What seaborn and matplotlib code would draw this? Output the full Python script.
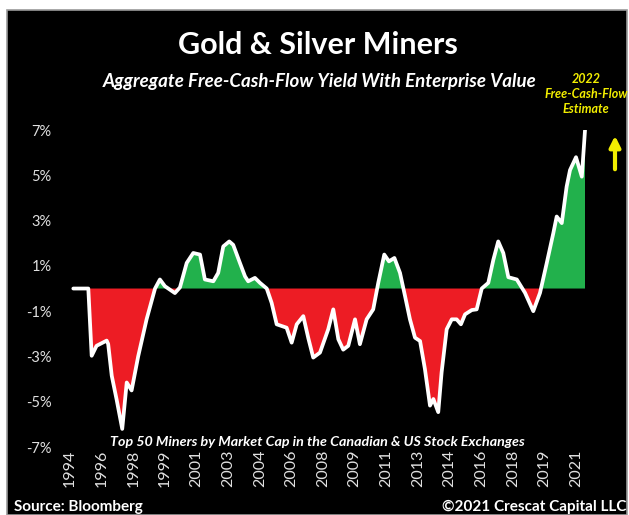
import numpy as np
import pandas as pd
import matplotlib
matplotlib.use("Agg")
import matplotlib.pyplot as plt
import seaborn as sns
from matplotlib.patches import Rectangle

# aggregate FCF yield (%), by period (decimal year)
period = [1994.18, 1994.98, 1995.16, 1995.42, 1995.96, 1996.04, 1996.23, 1996.49, 1996.79, 1997.03,
          1997.29, 1997.64, 1998.09, 1998.54, 1998.80, 1999.07, 1999.60, 1999.87, 2000.23, 2000.58,
          2000.94, 2001.20, 2001.65, 2001.91, 2002.18, 2002.50, 2002.71, 2003.07, 2003.34, 2003.51,
          2003.87, 2004.14, 2004.50, 2004.76, 2005.03, 2005.56, 2005.83, 2006.10, 2006.45, 2006.72,
          2006.98, 2007.34, 2007.78, 2008.05, 2008.32, 2008.58, 2008.85, 2009.21, 2009.47, 2009.83,
          2010.18, 2010.45, 2010.77, 2011.02, 2011.31, 2011.61, 2011.88, 2012.14, 2012.41, 2012.68,
          2012.94, 2013.21, 2013.39, 2013.65, 2013.83, 2014.10, 2014.37, 2014.63, 2014.86, 2015.08,
          2015.44, 2015.70, 2015.97, 2016.32, 2016.59, 2016.85, 2017.12, 2017.39, 2017.84, 2018.28,
          2018.72, 2019.08, 2019.44, 2019.79, 2019.97, 2020.24, 2020.50, 2020.68, 2021.00, 2021.31,
          2021.48]
fcf_yield = [0.0, 0.0, -2.97, -2.53, -2.30, -2.45, -3.85, -4.90, -6.20, -4.15,
             -4.50, -3.00, -1.36, 0.0, 0.40, 0.10, -0.20, 0.05, 1.13, 1.57,
             1.50, 0.40, 0.32, 0.69, 1.86, 2.08, 1.93, 1.13, 0.54, 0.32,
             0.47, 0.25, 0.0, -0.63, -1.58, -1.73, -2.39, -1.58, -1.22, -2.20,
             -3.05, -2.83, -1.80, -0.92, -2.24, -2.70, -2.53, -1.36, -2.46, -1.36,
             -0.92, 0.25, 1.50, 1.20, 1.35, 0.69, -0.34, -1.36, -2.17, -2.32,
             -3.56, -5.17, -4.88, -5.46, -3.70, -1.80, -1.36, -1.36, -1.58, -1.14,
             -0.95, -0.92, 0.0, 0.25, 1.27, 2.08, 1.57, 0.50, 0.40, -0.19,
             -1.00, -0.19, 1.13, 2.45, 3.18, 2.89, 4.50, 5.23, 5.80, 4.94,
             6.99]
year_labels = ["1994", "1996", "1998", "1999", "2001", "2003", "2004", "2006", "2008",
               "2009", "2011", "2013", "2014", "2016", "2018", "2019", "2021"]
y_ticks = [7, 5, 3, 1, -1, -3, -5, -7]

df = pd.DataFrame({"period": period, "fcf_yield": fcf_yield})

sns.set_style("dark")
plt.rcParams["font.family"] = ["Lato", "DejaVu Sans"]

red = "#ED1C24"
green = "#22B14C"
yellow = "#F2EE00"

fig = plt.figure(figsize=(6.29, 5.15), dpi=100, facecolor="white")
fig.patches.append(Rectangle((7 / 629, 0), 620 / 629, 505 / 515, transform=fig.transFigure,
                             facecolor="black", edgecolor="#9a9a9a", lw=1.2, zorder=-5))

ax = fig.add_axes([60 / 629, 0.132, 540 / 629, 0.6155])
ax.set_zorder(2)
ax.set_facecolor("black")
x = df["period"].to_numpy()
y = df["fcf_yield"].to_numpy()
ax.fill_between(x, y, 0, where=y >= 0, interpolate=True, color=green, lw=0)
ax.fill_between(x, y, 0, where=y <= 0, interpolate=True, color=red, lw=0)
sns.lineplot(data=df, x="period", y="fcf_yield", ax=ax, color="white", lw=2.7, zorder=3)

ax.set_xlim(1993.47, 2022.28)
ax.set_ylim(-7, 7)
ax.set_yticks(y_ticks)
ax.set_yticklabels([f"{v}%" for v in y_ticks])
ax.set_xticks(np.linspace(1994, 2021, len(year_labels)))
ax.set_xticklabels(year_labels, rotation=90)
ax.tick_params(axis="both", length=0, colors="#E0E0E0", labelsize=10.5)
ax.tick_params(axis="x", labelsize=11.5, pad=2)
ax.tick_params(axis="y", pad=6)
ax.set_xlabel("")
ax.set_ylabel("")
ax.grid(False)
for s in ax.spines.values():
    s.set_visible(False)

fig.text(318 / 629, 1 - 45 / 515, "Gold & Silver Miners", color="white", fontsize=22,
         fontweight="bold", ha="center", va="center", zorder=5)
fig.text(320 / 629, 1 - 82 / 515, "Aggregate Free-Cash-Flow Yield With Enterprise Value", color="white",
         fontsize=13.5, fontweight="bold", style="italic", ha="center", va="center", zorder=5)
fig.text(586 / 629, 1 - 94 / 515, "2022\nFree-Cash-Flow\nEstimate", color=yellow, fontsize=9,
         fontweight="bold", style="italic", ha="center", va="center", linespacing=1.3, zorder=5)
fig.text(317 / 629, 1 - 442 / 515, "Top 50 Miners by Market Cap in the Canadian & US Stock Exchanges",
         color="white", fontsize=10.3, fontweight="bold", style="italic", ha="center", va="center", zorder=5)
fig.text(14 / 629, 1 - 507 / 515, "Source: Bloomberg", color="white", fontsize=11,
         fontweight="bold", ha="left", va="center", zorder=5)
fig.text(626 / 629, 1 - 507 / 515, "\u00a92021 Crescat Capital LLC", color="white", fontsize=11,
         fontweight="bold", ha="right", va="center", zorder=5)
fig.add_artist(plt.Annotation("", xy=(615 / 629, 1 - 133 / 515), xytext=(615 / 629, 1 - 172 / 515),
                              xycoords="figure fraction",
                              arrowprops=dict(arrowstyle="-|>", color=yellow, lw=3, mutation_scale=16)))

plt.savefig("out.png", dpi=100, facecolor=fig.get_facecolor())
